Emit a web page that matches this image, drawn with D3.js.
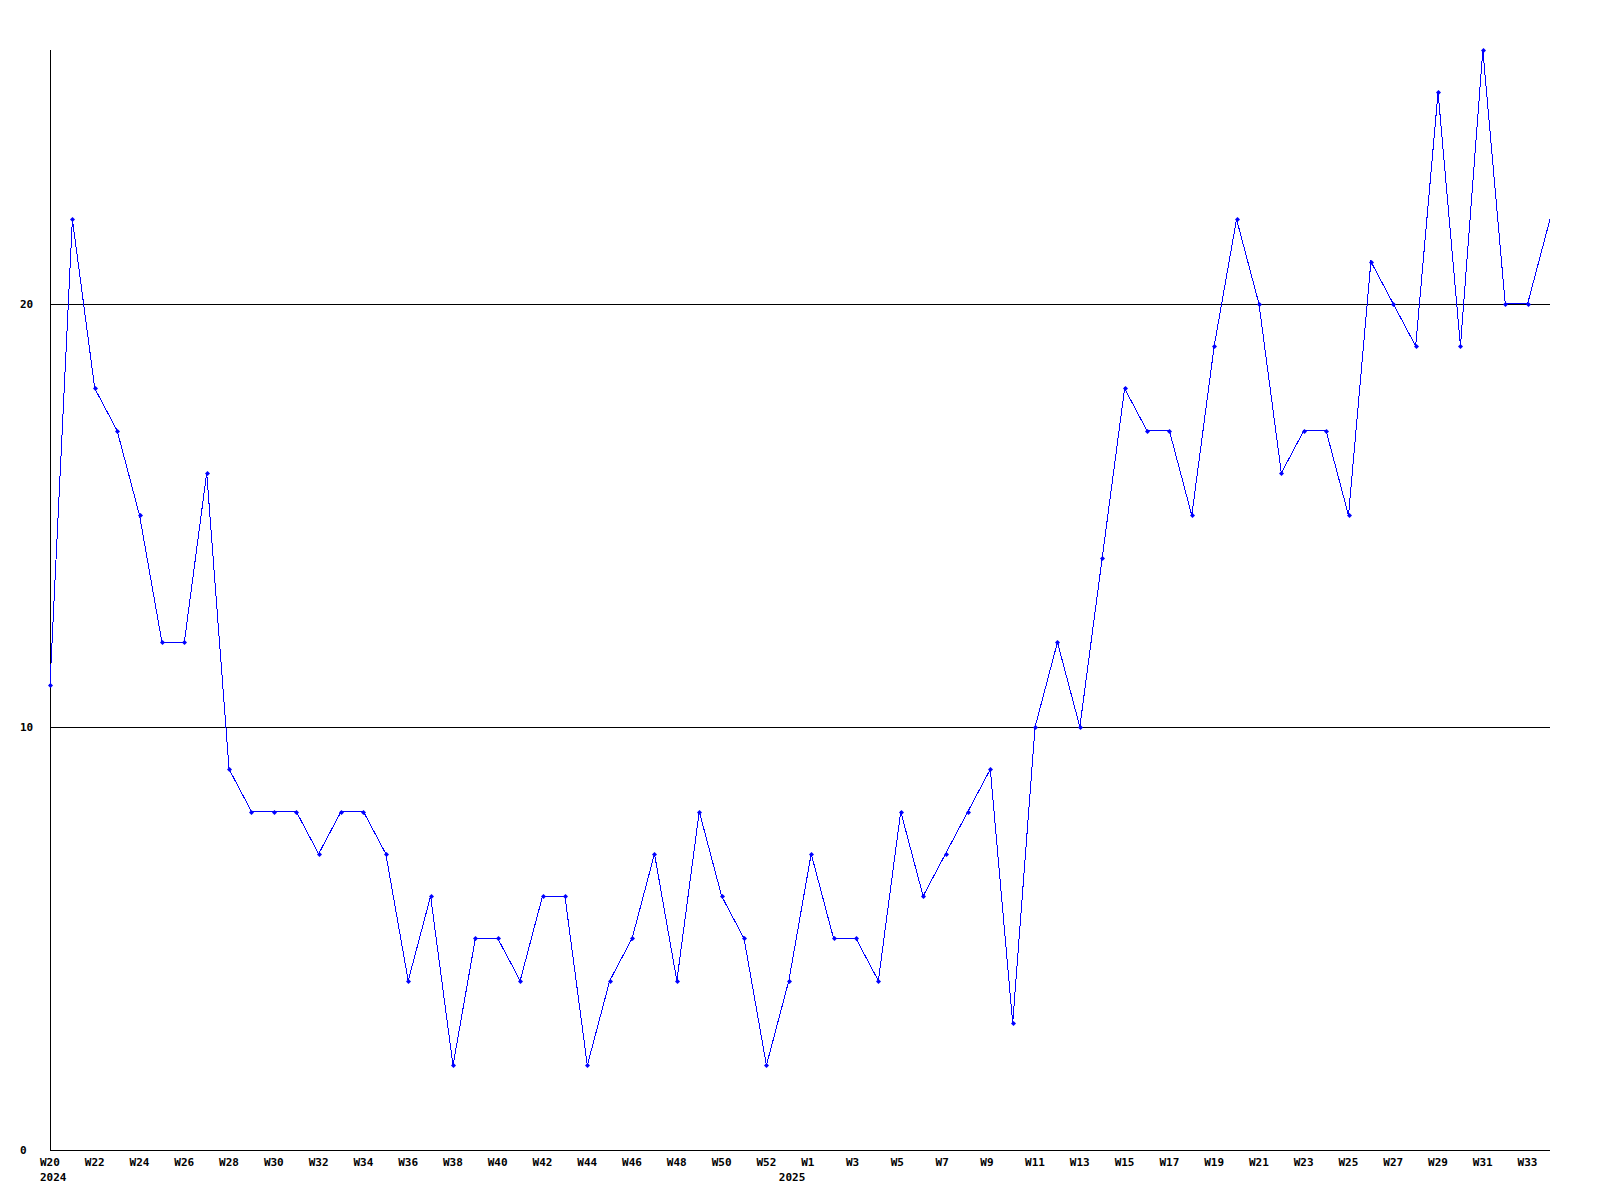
<!DOCTYPE html>
<html><head><meta charset="utf-8">
<script src="https://cdn.jsdelivr.net/npm/d3@7"></script>
<style>
html,body{margin:0;padding:0;background:#fff;}
text{font-family:"DejaVu Sans Mono",monospace;font-weight:bold;font-size:11px;fill:#000;}
</style></head>
<body>
<svg id="chart" width="1600" height="1200"></svg>
<script>
const weeks = ["W20","W21","W22","W23","W24","W25","W26","W27","W28","W29","W30","W31","W32","W33","W34","W35","W36","W37","W38","W39","W40","W41","W42","W43","W44","W45","W46","W47","W48","W49","W50","W51","W52",
  "W0","W1","W2","W3","W4","W5","W6","W7","W8","W9","W10","W11","W12","W13","W14","W15","W16","W17","W18","W19","W20","W21","W22","W23","W24","W25","W26","W27","W28","W29","W30","W31","W32","W33","W34"];
const years = [2024,2024,2024,2024,2024,2024,2024,2024,2024,2024,2024,2024,2024,2024,2024,2024,2024,2024,2024,2024,2024,2024,2024,2024,2024,2024,2024,2024,2024,2024,2024,2024,2024,
  2025,2025,2025,2025,2025,2025,2025,2025,2025,2025,2025,2025,2025,2025,2025,2025,2025,2025,2025,2025,2025,2025,2025,2025,2025,2025,2025,2025,2025,2025,2025,2025,2025,2025,2025];
const values = [11,22,18,17,15,12,12,16,9,8,8,8,7,8,8,7,4,6,2,5,5,4,6,6,2,4,5,7,4,8,6,5,2,
  4,7,5,5,4,8,6,7,8,9,3,10,12,10,14,18,17,17,15,19,22,20,16,17,17,15,21,20,19,25,19,26,20,20,22];
const yTicks = [0,10,20];

const svg = d3.select("#chart");
const x = d3.scaleLinear().domain([0, values.length-1]).range([50,1550]);
const y = d3.scaleLinear().domain([0,26]).range([1150,50]);

// grid lines
svg.selectAll("line.grid").data(yTicks.filter(d=>d>0)).enter().append("line")
  .attr("x1",50).attr("x2",1550).attr("y1",d=>Math.round(y(d))+0.5).attr("y2",d=>Math.round(y(d))+0.5)
  .attr("stroke","#000").attr("stroke-width",1).attr("shape-rendering","crispEdges");

// axes
svg.append("line").attr("x1",50.5).attr("x2",50.5).attr("y1",50).attr("y2",1150.5)
  .attr("stroke","#000").attr("shape-rendering","crispEdges");
svg.append("line").attr("x1",50).attr("x2",1550).attr("y1",1150.5).attr("y2",1150.5)
  .attr("stroke","#000").attr("shape-rendering","crispEdges");

// y labels
svg.selectAll("text.ylab").data(yTicks).enter().append("text")
  .attr("x",20).attr("y",d=>y(d)).attr("dy","0.35em").text(d=>d);

// x labels every 2nd week
const idx = d3.range(values.length);
svg.selectAll("text.xlab").data(idx.filter(i=>i<=32 ? i%2===0 : (i>=34 && i%2===0))).enter().append("text")
  .attr("x",i=>x(i)-10).attr("y",1166).text(i=>weeks[i]);
// year labels at first point of each year
svg.selectAll("text.year").data(idx.filter(i=>i===0||years[i]!==years[i-1])).enter().append("text")
  .attr("x",i=>x(i)-10).attr("y",1181).text(i=>years[i]);

// line
const line = d3.line().x((d,i)=>x(i)).y(d=>y(d));
svg.append("path").datum(values).attr("d",line).attr("fill","none")
  .attr("stroke","#0000ff").attr("stroke-width",1).attr("shape-rendering","crispEdges");

// markers
svg.selectAll("path.mk").data(idx.slice(0,values.length-1)).enter().append("path")
  .attr("d",i=>{const cx=Math.round(x(i))+0.5, cy=Math.round(y(values[i]))+0.5;
    return `M${cx-2.5},${cy}L${cx},${cy-2.5}L${cx+2.5},${cy}L${cx},${cy+2.5}Z`;})
  .attr("fill","#0000ff").attr("stroke","none");
</script>
</body></html>
